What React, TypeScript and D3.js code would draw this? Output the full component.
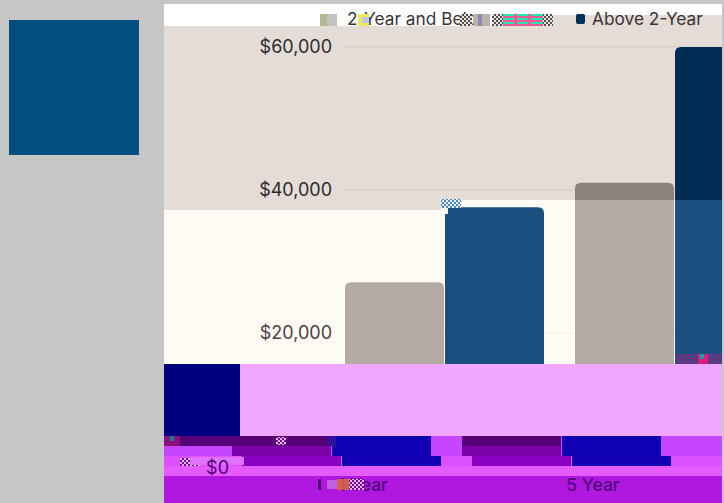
import React from "react";
import * as d3 from "d3";

const categories = ["1 Year", "5 Year"];
const seriesNames = ["2-Year and Below", "Above 2-Year"];
const seriesKeys = ["below", "above"];
const belowValues = [27100, 41000];
const aboveValues = [37600, 60000];
const yTicks = [20000, 40000, 60000];

const W = 724, H = 503, PL = 164, PR = 722;
const x0 = d3.scaleBand().domain(categories).range([345, 805]);
const x1 = d3.scaleBand().domain(seriesKeys).range([0, 200]);
const y = d3.scaleLinear().domain([0, 60000]).range([476, 47]);
const fmt = (v: number) => "$" + d3.format(",")(v);
const FONT = "Inter, 'Open Sans', sans-serif";

type Pal = { bg: string; a: string; b: string; grid: string };
const cream: Pal = { bg: "#fffcf5", a: "#b5a9a4", b: "#1a5080", grid: "#f2efe8" };
const beige: Pal = { bg: "#e4dcd6", a: "#8d817b", b: "#002c56", grid: "#d3cac4" };
const white: Pal = { bg: "#ffffff", a: "#b5a9a4", b: "#00305c", grid: "#d8d0ca" };
const row1: Pal = { bg: "#c845ff", a: "#560078", b: "#1000b4", grid: "#c845ff" };
const row2: Pal = { bg: "#c845ff", a: "#7a00a8", b: "#1000b4", grid: "#c845ff" };
const row3: Pal = { bg: "#dc50ff", a: "#8a00c0", b: "#1200b4", grid: "#dc50ff" };

const regions: { x: [number, number]; y: [number, number]; dx: number; pal: Pal }[] = [
  { x: [PL, 553], y: [4, 26], dx: 0, pal: white },
  { x: [553, PR], y: [4, 15], dx: 0, pal: white },
  { x: [553, PR], y: [15, 26], dx: 0, pal: beige },
  { x: [PL, 441], y: [26, 210], dx: 0, pal: beige },
  { x: [441, PR], y: [26, 200], dx: 0, pal: beige },
  { x: [PL, 441], y: [210, 364], dx: 0, pal: cream },
  { x: [441, PR], y: [200, 364], dx: 0, pal: cream },
  { x: [PL, PR], y: [436, 446], dx: -113, pal: row1 },
  { x: [PL, PR], y: [446, 456], dx: -113, pal: row2 },
  { x: [PL, PR], y: [456, 466], dx: -103, pal: row3 },
];

const patches: [number, number, number, number, string][] = [
  [320, 14, 7, 12, "#b4b890"], [327, 14, 10, 12, "#c2c2c0"], [358, 14, 11, 12, "#ece860"],
  [362, 17, 7, 6, "#c0c8e8"], [473, 14, 17, 12, "#b8b4a8"], [478, 14, 4, 12, "#9088b0"],
  [503, 14, 40, 12, "#20e8a8"], [503, 16, 40, 2, "#f05898"], [503, 20, 40, 2, "#f05898"],
  [503, 24, 40, 2, "#f05898"], [514, 14, 3, 12, "#f05898"], [528, 14, 3, 12, "#f05898"],
  [164, 436, 16, 10, "#8a1080"], [170, 436, 4, 5, "#108090"], [328, 436, 8, 10, "#3010a0"],
  [676, 354, 46, 10, "#5a3a80"], [698, 354, 10, 10, "#e01880"], [700, 354, 4, 5, "#10a0a0"],
  [190, 457, 54, 8, "#e070ff"], [327, 480, 10, 9, "#c060e0"], [318, 479, 3, 11, "#50007a"],
  [445, 208, 3, 6, "#fffcf5"],
];
const checkers: [number, number, number, number, string][] = [
  [460, 14, 12, 12, "url(#chk)"], [492, 14, 11, 12, "url(#chk)"], [543, 14, 10, 12, "url(#chk)"],
  [441, 199, 20, 9, "url(#chkB)"], [276, 437, 10, 8, "url(#chkP)"],
  [180, 458, 20, 8, "url(#chkP)"], [710, 354, 12, 10, "url(#chkP)"],
];

function Chart({ pal }: { pal: Pal }) {
  const r = 6, bw = 99;
  const bar = (cx: number, v: number, fill: string, k: string) => {
    const top = y(v), bottom = y(0);
    return (
      <path key={k} fill={fill}
        d={`M${cx},${bottom}V${top + r}Q${cx},${top} ${cx + r},${top}H${cx + bw - r}Q${cx + bw},${top} ${cx + bw},${top + r}V${bottom}Z`} />
    );
  };
  return (
    <g>
      <rect x={-200} y={0} width={W + 400} height={H} fill={pal.bg} />
      {yTicks.map((t) => (
        <line key={t} x1={343} x2={W + 200} y1={y(t)} y2={y(t)} stroke={pal.grid} />
      ))}
      {categories.map((c, i) => (
        <g key={c}>
          {bar(x0(c)! + x1("below")!, belowValues[i], pal.a, c + "a")}
          {bar(x0(c)! + x1("above")!, aboveValues[i], pal.b, c + "b")}
        </g>
      ))}
      <rect x={576} y={14} width={9} height={10} rx={2} fill="#00305c" />
    </g>
  );
}

export default function App() {
  return (
    <svg width={W} height={H} style={{ position: "absolute", left: 0, top: 0 }}>
      <defs>
        {regions.map((b, i) => (
          <clipPath id={"b" + i} key={i}>
            <rect x={b.x[0]} y={b.y[0]} width={b.x[1] - b.x[0]} height={b.y[1] - b.y[0]} />
          </clipPath>
        ))}
        <pattern id="chk" width={4} height={4} patternUnits="userSpaceOnUse">
          <rect width={4} height={4} fill="#e8e4e0" />
          <rect width={2} height={2} fill="#504c50" />
          <rect x={2} y={2} width={2} height={2} fill="#504c50" />
        </pattern>
        <pattern id="chkB" width={4} height={4} patternUnits="userSpaceOnUse">
          <rect width={4} height={4} fill="#e8eef4" />
          <rect width={2} height={2} fill="#5088b8" />
          <rect x={2} y={2} width={2} height={2} fill="#5088b8" />
        </pattern>
        <pattern id="chkP" width={4} height={4} patternUnits="userSpaceOnUse">
          <rect width={4} height={4} fill="#f0b0ff" />
          <rect width={2} height={2} fill="#6a1090" />
          <rect x={2} y={2} width={2} height={2} fill="#6a1090" />
        </pattern>
      </defs>
      <rect width={W} height={H} fill="#c6c6c6" />
      <rect x={9} y={20} width={130} height={135} fill="#034e80" />
      {regions.map((b, i) => (
        <g clipPath={`url(#b${i})`} key={i}>
          <g transform={`translate(${b.dx},0)`}>
            <Chart pal={b.pal} />
          </g>
        </g>
      ))}
      <rect x={PL} y={364} width={PR - PL} height={72} fill="#f0a8ff" />
      <rect x={PL} y={364} width={76} height={72} fill="#000080" />
      <rect x={PL} y={436} width={167} height={10} fill="#560078" />
      <rect x={PL} y={466} width={PR - PL} height={10} fill="#e45cff" />
      <rect x={PL} y={476} width={PR - PL} height={27} fill="#b018e0" />
      <rect x={PL} y={456} width={77} height={10} fill="#dc50ff" />
      <g fontFamily={FONT} fill="#3a3436">
        {yTicks.map((t) => (
          <text key={t} x={332} y={y(t) + 6} textAnchor="end" fontSize={18} fill={t === 20000 ? "#4a4244" : "#2e2a2c"}>{fmt(t)}</text>
        ))}
        <text x={347} y={25} fontSize={17.3}>{seriesNames[0]}</text>
        <text x={592} y={25} fontSize={17.3}>{seriesNames[1]}</text>
      </g>
      {checkers.map(([x, yy, w, h, f], i) => <rect key={"c" + i} x={x} y={yy} width={w} height={h} fill={f} />)}
      {patches.map(([x, yy, w, h, f], i) => <rect key={"p" + i} x={x} y={yy} width={w} height={h} fill={f} />)}
      <g fontFamily={FONT} fill="#50007a">
        <text x={229} y={474} textAnchor="end" fontSize={18}>$0</text>
        {categories.map((c) => (
          <text key={c} x={x0(c)! + 100 - 82} y={491} textAnchor="middle" fontSize={17.5} fontWeight={500}>{c}</text>
        ))}
      </g>
      <rect x={349} y={479} width={15} height={11} fill="url(#chkP)" />
      <rect x={337} y={479} width={12} height={11} fill="#e07030" opacity={0.8} />
    </svg>
  );
}
